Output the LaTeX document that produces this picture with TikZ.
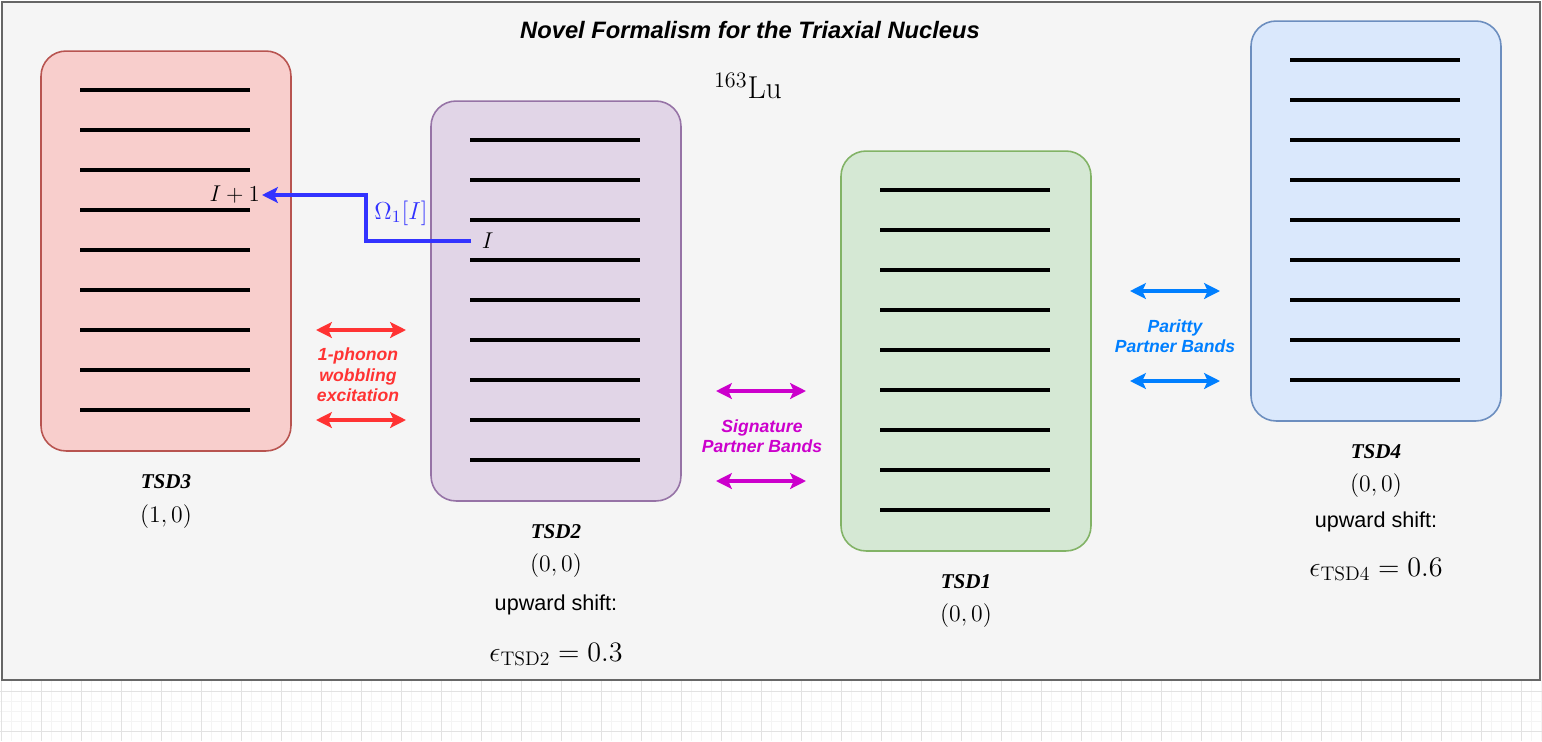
\RequirePackage{fix-cm}
\documentclass[tikz,border=0pt]{standalone}
\usepackage{fontspec}
\usepackage{amsmath}
\setsansfont{Liberation Sans}
\newfontfamily\tsdfont{Liberation Serif}
\usepackage{tikz}
\usetikzlibrary{arrows.meta, positioning, calc}
\definecolor{panelfill}{HTML}{F5F5F5}
\definecolor{panelline}{HTML}{666666}
\definecolor{gridmajor}{HTML}{E2E2E2}
\definecolor{gridminor}{HTML}{F4F4F4}
\definecolor{redfill}{HTML}{F8CECC}
\definecolor{redline}{HTML}{B85450}
\definecolor{purplefill}{HTML}{E1D5E7}
\definecolor{purpleline}{HTML}{9673A6}
\definecolor{greenfill}{HTML}{D5E8D4}
\definecolor{greenline}{HTML}{82B366}
\definecolor{bluefill}{HTML}{DAE8FC}
\definecolor{blueline}{HTML}{6C8EBF}
\definecolor{wobred}{HTML}{FF3333}
\definecolor{sigmagenta}{HTML}{CC00CC}
\definecolor{parblue}{HTML}{007FFF}
\definecolor{omegablue}{HTML}{3333FF}

\tikzset{
    bandbox/.style={rounded corners=0.5cm, line width=0.9pt, minimum width=5cm, minimum height=8cm, inner sep=0pt},
    level/.style={line width=2.3pt, black},
    tsdname/.style={font=\tsdfont\bfseries\itshape\fontsize{12}{14}\selectfont},
    mathlabel/.style={font=\fontsize{13.5}{16}\selectfont},
    bigmath/.style={font=\fontsize{16}{19}\selectfont},
    shiftlabel/.style={font=\sffamily\fontsize{12.3}{14}\selectfont},
    partnerlabel/.style={font=\sffamily\bfseries\itshape\fontsize{10}{11.6}\selectfont, align=center},
    partner/.style={line width=2.3pt, {Stealth[length=9pt,width=9pt,inset=2pt]}-{Stealth[length=9pt,width=9pt,inset=2pt]}}
}

\begin{document}
\begin{tikzpicture}[x=0.02cm, y=-0.02cm]
    \useasboundingbox (0,0) rectangle (1542,741);

    % Canvas grid below the panel
    \fill[white] (0,0) rectangle (1542,741);
    \foreach \gx in {1.7,11.7,...,1541.7}
        \draw[gridminor, line width=0.4pt] (\gx,680) -- (\gx,741);
    \foreach \gy in {701.7,711.7,721.7}
        \draw[gridminor, line width=0.4pt] (0,\gy) -- (1542,\gy);
    \foreach \gx in {1.7,41.7,...,1541.7}
        \draw[gridmajor, line width=0.5pt] (\gx,680) -- (\gx,741);
    \foreach \gy in {691.7,731.7}
        \draw[gridmajor, line width=0.5pt] (0,\gy) -- (1542,\gy);

    % Panel
    \draw[fill=panelfill, draw=panelline, line width=1.2pt] (2,2) rectangle (1540,680);

    % Title
    \node[font=\sffamily\bfseries\itshape\fontsize{13.5}{16}\selectfont] (title) at (750,30) {Novel Formalism for the Triaxial Nucleus};
    \node[font=\fontsize{18}{21}\selectfont] (nucleus) at (748,86) {$^{163}\mathrm{Lu}$};

    % Bands
    \node[bandbox, fill=redfill, draw=redline] (tsd3) at (166,251) {};
    \node[bandbox, fill=purplefill, draw=purpleline] (tsd2) at (556,301) {};
    \node[bandbox, fill=greenfill, draw=greenline] (tsd1) at (966,351) {};
    \node[bandbox, fill=bluefill, draw=blueline] (tsd4) at (1376,221) {};

    % Levels
    \foreach \band in {tsd3, tsd2, tsd1, tsd4}
        \foreach \k in {0,...,8}
            \draw[level] ($(\band.north west)+(40,40+40*\k)$) -- ++(170,0);

    % Band labels
    \node[tsdname] (tsd3name) at (166,482) {TSD3};
    \node[mathlabel] (tsd3k) at (166,517) {$(1,0)$};
    \node[tsdname] (tsd2name) at (556,532) {TSD2};
    \node[mathlabel] (tsd2k) at (556,566) {$(0,0)$};
    \node[shiftlabel] (tsd2up) at (556,605) {upward shift:};
    \node[bigmath] (tsd2eps) at (556,655) {$\epsilon_{\mathrm{TSD2}} = 0.3$};
    \node[tsdname] (tsd1name) at (966,582) {TSD1};
    \node[mathlabel] (tsd1k) at (966,616) {$(0,0)$};
    \node[tsdname] (tsd4name) at (1376,452) {TSD4};
    \node[mathlabel] (tsd4k) at (1376,486) {$(0,0)$};
    \node[shiftlabel] (tsd4up) at (1376,522) {upward shift:};
    \node[bigmath] (tsd4eps) at (1376,570) {$\epsilon_{\mathrm{TSD4}} = 0.6$};

    % Wobbling transition
    \node[font=\fontsize{13}{15}\selectfont, anchor=west, inner xsep=6pt, inner ysep=1pt] (lvlI) at (471,241) {$I$};
    \node[font=\fontsize{13}{15}\selectfont, anchor=east, inner xsep=1pt, inner ysep=1pt] (lvlIplus) at (262,195) {$I+1$};
    \draw[omegablue, line width=1.8pt, -{Stealth[length=9pt,width=9pt,inset=2pt]}] (lvlI.west) -- ++(-105,0) |- (lvlIplus.east);
    \node[omegablue, font=\fontsize{14}{16}\selectfont] (omega) at (401,213) {$\Omega_1[I]$};

    % Partner arrows
    \coordinate (wobA) at (316,330); \coordinate (wobB) at (406,330);
    \coordinate (wobC) at (316,420); \coordinate (wobD) at (406,420);
    \draw[partner, wobred] (wobA) -- (wobB);
    \draw[partner, wobred] (wobC) -- (wobD);
    \node[partnerlabel, text=wobred] (woblabel) at (358,375) {1-phonon\\wobbling\\excitation};

    \coordinate (sigA) at (716,391); \coordinate (sigB) at (806,391);
    \coordinate (sigC) at (716,481); \coordinate (sigD) at (806,481);
    \draw[partner, sigmagenta] (sigA) -- (sigB);
    \draw[partner, sigmagenta] (sigC) -- (sigD);
    \node[partnerlabel, text=sigmagenta] (siglabel) at (762,436) {Signature\\Partner Bands};

    \coordinate (parA) at (1130,291); \coordinate (parB) at (1220,291);
    \coordinate (parC) at (1130,381); \coordinate (parD) at (1220,381);
    \draw[partner, parblue] (parA) -- (parB);
    \draw[partner, parblue] (parC) -- (parD);
    \node[partnerlabel, text=parblue] (parlabel) at (1175,336) {Paritty\\Partner Bands};
\end{tikzpicture}
\end{document}
